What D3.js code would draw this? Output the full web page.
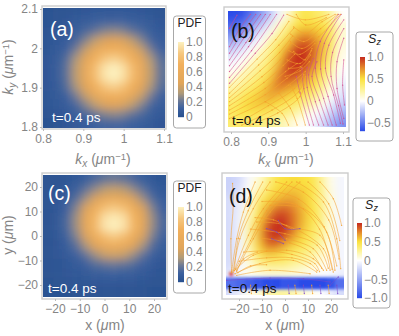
<!DOCTYPE html>
<html>
<head>
<meta charset="utf-8">
<script src="https://cdn.jsdelivr.net/npm/d3@7"></script>
<style>
  html, body { margin: 0; padding: 0; background: #fff; }
  text { font-family: "Liberation Sans", sans-serif; }
</style>
</head>
<body>
<svg id="chart" width="399" height="336"></svg>
<script>
// tick values
var kxTicks = [0.8, 0.9, 1, 1.1];
var kyTicks = [1.8, 1.9, 2, 2.1];
var umTicks = [-20, -10, 0, 10, 20];
var pdfTicks = [0, 0.2, 0.4, 0.6, 0.8, 1];
var szTicksTop = [-0.5, 0, 0.5, 1];
var szTicksBottom = [-1, -0.5, 0, 0.5, 1];

// PDF grids, rows from top to bottom
var gridA = [
  [.02,.03,.03,.04,.05,.06,.06,.06,.06,.06,.05,.04,.03],
  [.02,.03,.05,.07,.09,.11,.13,.13,.13,.11,.09,.07,.05],
  [.03,.05,.07,.10,.15,.20,.25,.27,.25,.20,.15,.10,.07],
  [.04,.06,.09,.14,.25,.35,.43,.46,.43,.35,.25,.14,.09],
  [.04,.07,.12,.23,.37,.52,.63,.67,.63,.52,.37,.23,.12],
  [.05,.08,.17,.31,.48,.67,.82,.88,.82,.67,.48,.31,.17],
  [.05,.09,.19,.35,.55,.77,.94,1,.94,.77,.55,.35,.19],
  [.05,.09,.19,.35,.55,.77,.94,1,.94,.77,.55,.35,.19],
  [.05,.08,.17,.31,.48,.67,.82,.88,.82,.67,.48,.31,.17],
  [.04,.07,.12,.23,.37,.52,.63,.67,.63,.52,.37,.23,.12],
  [.04,.06,.09,.14,.25,.35,.43,.46,.43,.35,.25,.14,.09],
  [.03,.05,.07,.10,.15,.20,.25,.27,.25,.20,.15,.10,.07],
  [.02,.03,.05,.07,.09,.11,.13,.13,.13,.11,.09,.07,.05]
];
var gridC = [
  [.03,.03,.04,.06,.10,.15,.19,.21,.19,.15,.10,.06,.04],
  [.03,.04,.06,.11,.19,.27,.34,.37,.34,.27,.19,.11,.06],
  [.03,.05,.09,.17,.29,.43,.54,.58,.54,.43,.29,.17,.09],
  [.03,.06,.12,.25,.43,.63,.79,.85,.79,.63,.43,.25,.12],
  [.03,.07,.15,.29,.50,.73,.93,.97,.93,.73,.50,.29,.15],
  [.03,.07,.15,.29,.50,.75,.95,1,.95,.75,.50,.29,.15],
  [.03,.06,.13,.25,.43,.63,.79,.86,.79,.63,.43,.25,.13],
  [.03,.05,.10,.18,.31,.46,.59,.64,.59,.46,.31,.18,.10],
  [.03,.05,.07,.12,.20,.29,.38,.40,.38,.29,.20,.12,.07],
  [.03,.04,.06,.08,.12,.17,.20,.22,.20,.17,.12,.08,.05],
  [.03,.04,.05,.06,.07,.09,.10,.11,.10,.09,.07,.05,.04],
  [.02,.03,.03,.04,.04,.05,.05,.05,.05,.05,.04,.03,.03],
  [.02,.02,.02,.03,.03,.03,.03,.03,.03,.03,.03,.02,.02]
];

// Sz grids
var gridB = [
  [-.68,-.68,-.55,-.4,-.25,-.05,.1,.35,.47,.4,.35,.2,0],
  [-.6,-.55,-.4,-.25,-.1,.1,.28,.47,.52,.52,.47,.35,.1],
  [-.45,-.4,-.25,-.1,.05,.22,.4,.62,.72,.65,.55,.4,.1],
  [-.3,-.2,-.1,0,.2,.37,.55,.82,.88,.8,.6,.37,.1],
  [-.15,-.08,0,.15,.28,.47,.75,.97,.98,.85,.58,.35,.06],
  [-.05,0,.12,.22,.35,.58,.88,1,1,.8,.55,.28,.04],
  [0,.1,.2,.3,.42,.68,.93,.98,.9,.68,.47,.22,0],
  [.1,.2,.28,.38,.55,.78,.9,.86,.72,.55,.37,.14,-.03],
  [.2,.28,.38,.48,.64,.8,.74,.66,.56,.47,.28,.06,-.08],
  [.3,.4,.5,.6,.68,.64,.56,.5,.42,.32,.16,0,-.12],
  [.38,.47,.56,.58,.56,.5,.42,.36,.28,.16,.02,-.1,-.2],
  [.42,.48,.47,.46,.42,.36,.3,.22,.1,0,-.08,-.2,-.3],
  [.36,.38,.36,.32,.28,.22,.15,.06,0,-.05,-.15,-.3,-.42]
];
var gridD = [
  [-.25,-.2,-.03,.1,.28,.47,.5,.52,.5,.47,.28,.06,-.05],
  [-.25,-.15,.02,.2,.4,.52,.58,.6,.56,.48,.32,.08,-.05],
  [-.2,-.1,.06,.35,.52,.62,.68,.68,.58,.48,.3,.1,-.05],
  [-.2,-.08,.12,.42,.64,.82,.86,.76,.62,.5,.33,.1,-.05],
  [-.2,-.06,.18,.5,.78,.96,.95,.8,.62,.48,.33,.1,-.05],
  [-.2,-.06,.24,.58,.9,1,.98,.8,.6,.44,.3,.1,-.05],
  [-.2,-.06,.24,.6,.9,1,.9,.7,.52,.4,.28,.08,-.05],
  [-.2,-.06,.22,.55,.8,.84,.68,.54,.44,.34,.22,.06,-.05],
  [-.2,-.06,.16,.44,.58,.55,.46,.38,.32,.24,.15,.04,-.05],
  [-.2,-.05,.1,.25,.35,.37,.35,.28,.22,.15,.08,0,-.05],
  [-.15,-.03,.04,.1,.15,.15,.15,.12,.08,.04,0,-.03,-.08],
  [-.1,.1,0,-.05,-.05,-.08,-.08,-.08,-.08,-.1,-.1,-.12,-.15],
  [-.2,-.1,.05,.1,.2,.25,.25,.2,.12,.05,0,-.1,-.2]
];
// the thin blue band across the bottom of (d)
var bandD = [-.8,-.85,-.9,-.95,-1,-1,-.95,-.95,-1,-1,-1,-.95,-.8];

// stream lines in data units: [kx, ky] for (b), [x, y] for (d)
var streamPinkB = [
  [[.796,2.061],[.816,2.097]],
  [[.796,2.011],[.821,2.056],[.852,2.099]],
  [[.796,1.993],[.828,2.045],[.866,2.099]],
  [[.796,1.975],[.834,2.034],[.879,2.099]],
  [[.796,1.959],[.84,2.022],[.892,2.099]],
  [[.796,1.943],[.847,2.011],[.905,2.099]],
  [[.796,1.927],[.855,2],[.922,2.099]],
  [[.796,1.911],[.865,1.993],[.91,2.047],[.941,2.097]],
  [[1.102,2.084],[1.062,2.015],[1.053,1.952],[1.075,1.879],[1.093,1.802]],
  [[1.102,2.06],[1.072,1.995],[1.068,1.93],[1.088,1.85],[1.1,1.8]],
  [[1.102,2.034],[1.084,1.97],[1.084,1.897],[1.102,1.815]],
  [[1.102,1.975],[1.099,1.906],[1.104,1.852]],
  [[1.095,2.099],[1.05,2.02],[1.04,1.95],[1.06,1.875],[1.082,1.797]],
  [[1.03,1.97],[1.017,1.93],[1.037,1.865],[1.06,1.797]],
  [[1.021,1.979],[1.008,1.934],[1.026,1.861],[1.048,1.797]],
  [[1.004,1.955],[1.004,1.9],[1.035,1.797]],
  [[.99,1.952],[.995,1.897],[1.021,1.797]],
  [[.975,1.93],[.985,1.885],[1.01,1.797]],
  [[1.088,2.099],[1.039,2.025],[1.026,1.952],[1.048,1.87],[1.071,1.797]]
];
var streamOrangeB = [
  [[.796,1.9],[.87,1.977],[.92,2.03],[.955,2.08]],
  [[.796,1.884],[.874,1.961],[.928,2.015],[.968,2.061]],
  [[.796,1.872],[.878,1.945],[.93,1.995],[.965,2.04]],
  [[.796,1.861],[.883,1.929],[.932,1.975],[.96,2.02]],
  [[.796,1.85],[.888,1.913],[.94,1.96],[.97,1.99]],
  [[.796,1.838],[.892,1.897],[.946,1.943],[.977,1.965]],
  [[.796,1.827],[.892,1.88],[.95,1.925],[.99,1.955]],
  [[.796,1.815],[.892,1.861],[.954,1.906],[.999,1.943]],
  [[.81,1.797],[.9,1.85],[.97,1.897],[.995,1.935]],
  [[.829,1.797],[.91,1.838],[.981,1.888],[1,1.93]],
  [[.85,1.797],[.925,1.83],[.985,1.875],[1,1.92]],
  [[.95,2.099],[.999,2.084],[1.062,2.099]],
  [[.975,2.099],[1,2.07],[1.055,2.09]],
  [[.968,2.065],[.999,2.047],[1.044,2.079],[1.079,2.099]],
  [[.96,2.045],[.995,2.025],[1.04,2.06],[1.085,2.099]],
  [[.959,2.025],[.99,2.006],[1.035,2.038],[1.093,2.099]],
  [[.968,1.998],[.999,1.975],[1.017,2.006]],
  [[.955,2],[.985,1.99],[1.025,2.02]],
  [[.95,1.975],[.985,1.965],[1.015,2]],
  [[.954,1.952],[.986,1.956],[1.013,1.988]],
  [[.945,1.93],[.985,1.945],[1.01,1.97]],
  [[.959,1.906],[.977,1.87],[.999,1.797]],
  [[.928,1.884],[.959,1.843],[.977,1.797]],
  [[.892,1.861],[.937,1.829],[.954,1.797]]
];
var streamOrangeD = [
  [[-23.2,-15.7],[-23.5,-1.2],[-22.5,13.3],[-22.8,22.8]],
  [[-23.2,-15.7],[-21,-1.2],[-18.1,10.4],[-13,23.5]],
  [[-22,-15],[-20.3,-1],[-16,11],[-9.7,23.5]],
  [[-22.5,-14.9],[-19.6,-1.2],[-13.8,11.9],[-6.5,23.5]],
  [[-21.7,-14.2],[-15.9,.3],[-9.4,11.9],[.7,23.5]],
  [[-21.5,-14.5],[-15,-2],[-8,11],[3,23.5]],
  [[-21,-14.9],[-13.8,-1.2],[-6.5,10.4],[6.5,23.5]],
  [[-4,23.5],[8,19],[19,7],[23.5,-10]],
  [[-8,20],[6,16],[17,4],[22.5,-13]],
  [[-10,15],[5,13.5],[15,3],[20.5,-14.5]],
  [[10,23.5],[19,14],[23.8,-2]],
  [[5.1,23.5],[16.7,14.8],[22.5,-1.2],[24.2,-14.2]],
  [[15.2,23.5],[21,16.2],[24.6,4.6]],
  [[-6.5,13.3],[8,11.9],[18.1,1.7],[21.7,-14.9]],
  [[-13,8],[-5,7],[3,3]],
  [[-12.3,6.1],[.7,4.6],[16.7,-5.5],[19.6,-14.9]],
  [[-15,3],[0,1],[14,-4],[18.8,-14]],
  [[3.6,3.2],[15.2,.3],[21,-15.7]],
  [[-10,-1],[2,-3],[11,-7],[16,-14]],
  [[.7,-1.2],[12.3,-5.5],[18.1,-14.9]],
  [[-18,-7],[-8,-6.5],[3,-8],[13,-12],[15,-15.5]],
  [[-22.5,-15.7],[-13.8,-8.4],[.7,-6.2],[12.3,-9.9],[16.7,-14.9]],
  [[-20,-11],[-8,-9.5],[3,-9.5],[11,-12],[14,-15]],
  [[-21.7,-16.4],[-10.9,-12],[3.6,-10.6],[13.8,-15.7]],
  [[-21,-15.5],[-18,-10],[-12,-7]],
  [[-20.5,-16],[-15,-13],[-8,-12.5]],
  [[-21,-17.1],[-6.5,-14.9],[10.9,-16.4]],
  [[-15,-21.4],[-14.6,-25]],
  [[-8,-21.4],[-7.6,-25]],
  [[4.3,-21.4],[4.8,-25]],
  [[11.6,-21.4],[12,-25]],
  [[18.8,-21.4],[19.2,-25]]
];
var streamPurpleD = [
  [[-8,3.2],[-3.6,1.7],[0,-1.9]],
  [[-2.9,6.8],[0,3.2],[6.5,3.2]],
  [[-5.8,-1.2],[-.7,-3.3]],
  [[-25.4,-19.3],[-6.5,-18.3],[8,-18.6],[19.6,-20]],
  [[19.6,-21.4],[23.2,-17.8]],
  [[1.4,-21.4],[1.8,-25]],
  [[8,-21.4],[8.4,-25]],
  [[15.2,-21.4],[15.6,-25]],
  [[22.5,-21.4],[22.9,-25]]
];

var svg = d3.select('#chart');
var grayText = '#858585';

var pdfColor = d3.scaleLinear()
  .domain([0, .12, .22, .32, .45, .7, .85, 1])
  .range(['#27508f', '#3d619f', '#6d7a95', '#b09a78', '#e0a55a', '#f2b05c', '#f6c880', '#fdf1c0'])
  .clamp(true);

function szColor(min) {
  return d3.scaleLinear()
    .domain([min, 0, .25, .5, .75, 1])
    .range(['#2b4ce8', '#ffffff', '#fdf49a', '#fbe23f', '#e58a2b', '#c62a1e'])
    .clamp(true);
}

var defs = svg.append('defs');
[['soft', 4], ['bandSoft', 1.5]].forEach(function(f) {
  defs.append('filter').attr('id', f[0])
      .attr('x', '-20%').attr('y', '-20%').attr('width', '140%').attr('height', '140%')
    .append('feGaussianBlur').attr('stdDeviation', f[1]);
});

function cells(parent, grid, color, l, t, w, h) {
  var xb = d3.scaleBand().domain(d3.range(grid[0].length)).range([l, l + w]);
  var yb = d3.scaleBand().domain(d3.range(grid.length)).range([t, t + h]);
  grid.forEach(function(row, j) {
    parent.selectAll(null).data(row).enter().append('rect')
      // outer cells run on past the image so the blur has no pale rim
      .attr('x', (d, i) => xb(i) - (i == 0 ? 15 : 0))
      .attr('y', yb(j) - (j == 0 ? 15 : 0))
      .attr('width', (d, i) => xb.bandwidth() + 0.5 + (i == 0 || i == row.length - 1 ? 15 : 0))
      .attr('height', yb.bandwidth() + 0.5 + (j == 0 || j == grid.length - 1 ? 15 : 0))
      .attr('fill', d => color(d));
  });
}

function drawPanel(p) {
  var x = d3.scaleLinear().domain(p.xDomain).range(p.xRange);
  var y = d3.scaleLinear().domain(p.yDomain).range(p.yRange);
  var l = p.img[0], t = p.img[1], w = p.img[2], h = p.img[3];

  svg.append('rect').attr('x', p.frame[0]).attr('y', p.frame[1])
    .attr('width', p.frame[2]).attr('height', p.frame[3])
    .attr('fill', '#fff').attr('stroke', '#cccccc').attr('stroke-width', 1.4);

  defs.append('clipPath').attr('id', 'clip' + p.name)
    .append('rect').attr('x', l).attr('y', t).attr('width', w).attr('height', h);
  var g = svg.append('g').attr('clip-path', 'url(#clip' + p.name + ')');

  cells(g.append('g').attr('filter', 'url(#soft)'), p.grid, p.color, l, t, w, h);

  if (p.band) {
    var bandG = g.append('g').attr('filter', 'url(#bandSoft)');
    var xb = d3.scaleBand().domain(d3.range(p.band.length)).range([l, l + w]);
    bandG.selectAll('rect').data(p.band).enter().append('rect')
      .attr('x', (d, i) => xb(i) - (i == 0 ? 10 : 0))
      .attr('y', y(-18))
      .attr('width', (d, i) => xb.bandwidth() + 0.5 + (i == 0 || i == p.band.length - 1 ? 10 : 0))
      .attr('height', y(-23.2) - y(-18))
      .attr('fill', d => p.color(d));
    bandG.append('circle').attr('cx', x(-23.4)).attr('cy', y(-16.5)).attr('r', 2.2).attr('fill', '#d9402a');
  }

  var line = d3.line().x(d => x(d[0])).y(d => y(d[1])).curve(d3.curveCatmullRom);
  (p.streams || []).forEach(function(s) {
    s.lines.forEach(function(pts) {
      g.append('path').attr('d', line(pts)).attr('fill', 'none')
        .attr('stroke', s.color).attr('stroke-width', 0.65).attr('stroke-opacity', 0.85);
      g.selectAll(null).data(pts).enter().append('circle')
        .attr('cx', d => x(d[0])).attr('cy', d => y(d[1])).attr('r', 0.7)
        .attr('fill', s.color).attr('fill-opacity', 0.8);
    });
  });

  var xAxis = d3.axisBottom(x).tickValues(p.xTicks).tickSize(2).tickPadding(3)
    .tickFormat(d => String(d).replace('-', '\u2212'));
  var ax = svg.append('g').attr('transform', 'translate(0,' + (p.frame[1] + p.frame[3]) + ')').call(xAxis);
  ax.select('.domain').remove();
  ax.selectAll('line').attr('stroke', '#bbb');
  ax.selectAll('text').attr('fill', grayText).attr('font-size', 12)
    .attr('font-family', '"Liberation Sans", sans-serif');

  if (p.yTicks) {
    var yAxis = d3.axisLeft(y).tickValues(p.yTicks).tickSize(2).tickPadding(2)
      .tickFormat(d => String(d).replace('-', '\u2212'));
    var ay = svg.append('g').attr('transform', 'translate(' + p.frame[0] + ',0)').call(yAxis);
    ay.select('.domain').remove();
    ay.selectAll('line').attr('stroke', '#bbb');
    ay.selectAll('text').attr('fill', grayText).attr('font-size', 12)
      .attr('font-family', '"Liberation Sans", sans-serif');
  }

  svg.append('text').attr('x', p.tagPos[0]).attr('y', p.tagPos[1]).attr('font-size', 19.5)
    .attr('fill', p.inkColor).text(p.tag);
  svg.append('text').attr('x', p.timePos[0]).attr('y', p.timePos[1]).attr('font-size', 13.5)
    .attr('fill', p.inkColor).text('t=0.4 ps');
}

function axisTitle(cx, cy, rotate, name, sub, sup) {
  var t = svg.append('text').attr('text-anchor', 'middle').attr('fill', grayText).attr('font-size', 14)
    .attr('transform', 'translate(' + cx + ',' + cy + ')' + (rotate ? ' rotate(-90)' : ''));
  t.append('tspan').attr('font-style', sub ? 'italic' : 'normal').text(name);
  if (sub) t.append('tspan').attr('font-size', 10).attr('dy', 2.5).attr('font-style', 'italic').text(sub);
  t.append('tspan').attr('dy', sub ? -2.5 : 0).text(' (');
  t.append('tspan').attr('font-style', 'italic').text('\u03bc');
  t.append('tspan').text('m');
  if (sup) {
    t.append('tspan').attr('font-size', 9.5).attr('dy', -4.5).text(sup);
    t.append('tspan').attr('dy', 4.5).text(')');
  } else {
    t.append('tspan').text(')');
  }
}

function legend(box, bar, color, domain, ticks, title, italicSub) {
  svg.append('rect').attr('x', box[0]).attr('y', box[1]).attr('width', box[2]).attr('height', box[3])
    .attr('rx', 3).attr('fill', '#fff').attr('stroke', '#a8a8a8').attr('stroke-width', 1);
  var y = d3.scaleLinear().domain(domain).range([bar[1] + bar[3], bar[1]]);
  svg.selectAll(null).data(d3.range(bar[1], bar[1] + bar[3])).enter().append('rect')
    .attr('x', bar[0]).attr('y', d => d).attr('width', bar[2]).attr('height', 1.2)
    .attr('fill', d => color(y.invert(d + 0.5)));
  svg.selectAll(null).data(ticks).enter().append('text')
    .attr('x', bar[0] + bar[2] + 2).attr('y', d => y(d)).attr('dy', '0.36em')
    .attr('fill', grayText).attr('font-size', 12)
    .text(d => d == 0 ? '0' : (d < 0 ? '\u2212' : '') + Math.abs(d).toFixed(1));
  var t = svg.append('text').attr('x', box[0] + box[2] / 2).attr('y', box[1] + 11)
    .attr('text-anchor', 'middle').attr('fill', '#222').attr('font-size', 12);
  if (italicSub) {
    t.append('tspan').attr('font-style', 'italic').attr('font-size', 12.5).text(title);
    t.append('tspan').attr('font-style', 'italic').attr('font-size', 9).attr('dy', 2).text(italicSub);
  } else {
    t.text(title);
  }
}

var colorB = szColor(-0.68), colorD = szColor(-1);

drawPanel({ name: 'a', tag: '(a)', inkColor: '#fff', grid: gridA, color: pdfColor,
  xDomain: [.8, 1.1], xRange: [43, 164], yDomain: [1.8, 2.1], yRange: [127, 9],
  xTicks: kxTicks, yTicks: kyTicks, img: [43, 8, 122, 120], frame: [42, 6, 124, 123],
  tagPos: [50, 36], timePos: [52, 122] });
drawPanel({ name: 'b', tag: '(b)', inkColor: '#111', grid: gridB, color: colorB,
  xDomain: [.8, 1.1], xRange: [231, 343], yDomain: [1.8, 2.1], yRange: [124, 14],
  xTicks: kxTicks, img: [228, 11, 118, 116], frame: [224, 7, 125, 125],
  tagPos: [231, 38], timePos: [232, 125],
  streams: [{ color: '#d0488c', lines: streamPinkB }, { color: '#f4a02c', lines: streamOrangeB }] });
drawPanel({ name: 'c', tag: '(c)', inkColor: '#fff', grid: gridC, color: pdfColor,
  xDomain: [-20, 20], xRange: [55, 154], yDomain: [-20, 20], yRange: [285, 187],
  xTicks: umTicks, yTicks: umTicks, img: [43, 175, 123, 122], frame: [42, 173, 125, 126],
  tagPos: [48, 200], timePos: [48, 293] });
drawPanel({ name: 'd', tag: '(d)', inkColor: '#111', grid: gridD, band: bandD, color: colorD,
  xDomain: [-20, 20], xRange: [239, 331], yDomain: [-20, 20], yRange: [282, 190],
  xTicks: umTicks, img: [226, 177, 118, 118], frame: [222, 173, 126, 126],
  tagPos: [229, 203], timePos: [228, 293],
  streams: [{ color: '#f4a02c', lines: streamOrangeD }, { color: '#7a48c8', lines: streamPurpleD }] });

axisTitle(103, 164, false, 'k', 'x', '\u22121');
axisTitle(286, 164, false, 'k', 'x', '\u22121');
axisTitle(13, 67, true, 'k', 'y', '\u22121');
axisTitle(105, 330, false, 'x', '', '');
axisTitle(285, 330, false, 'x', '', '');
axisTitle(13, 235, true, 'y', '', '');

legend([173.5, 16, 32, 112], [178, 42, 6, 75], pdfColor, [0, 1], pdfTicks, 'PDF');
legend([173.5, 181, 32, 112], [178, 207, 6, 75], pdfColor, [0, 1], pdfTicks, 'PDF');
legend([356, 32, 37, 109], [360, 57, 5, 74], colorB, [-0.68, 1], szTicksTop, 'S', 'z');
legend([353, 198, 37, 110], [357, 223, 5, 75], colorD, [-1, 1], szTicksBottom, 'S', 'z');
</script>
</body>
</html>
